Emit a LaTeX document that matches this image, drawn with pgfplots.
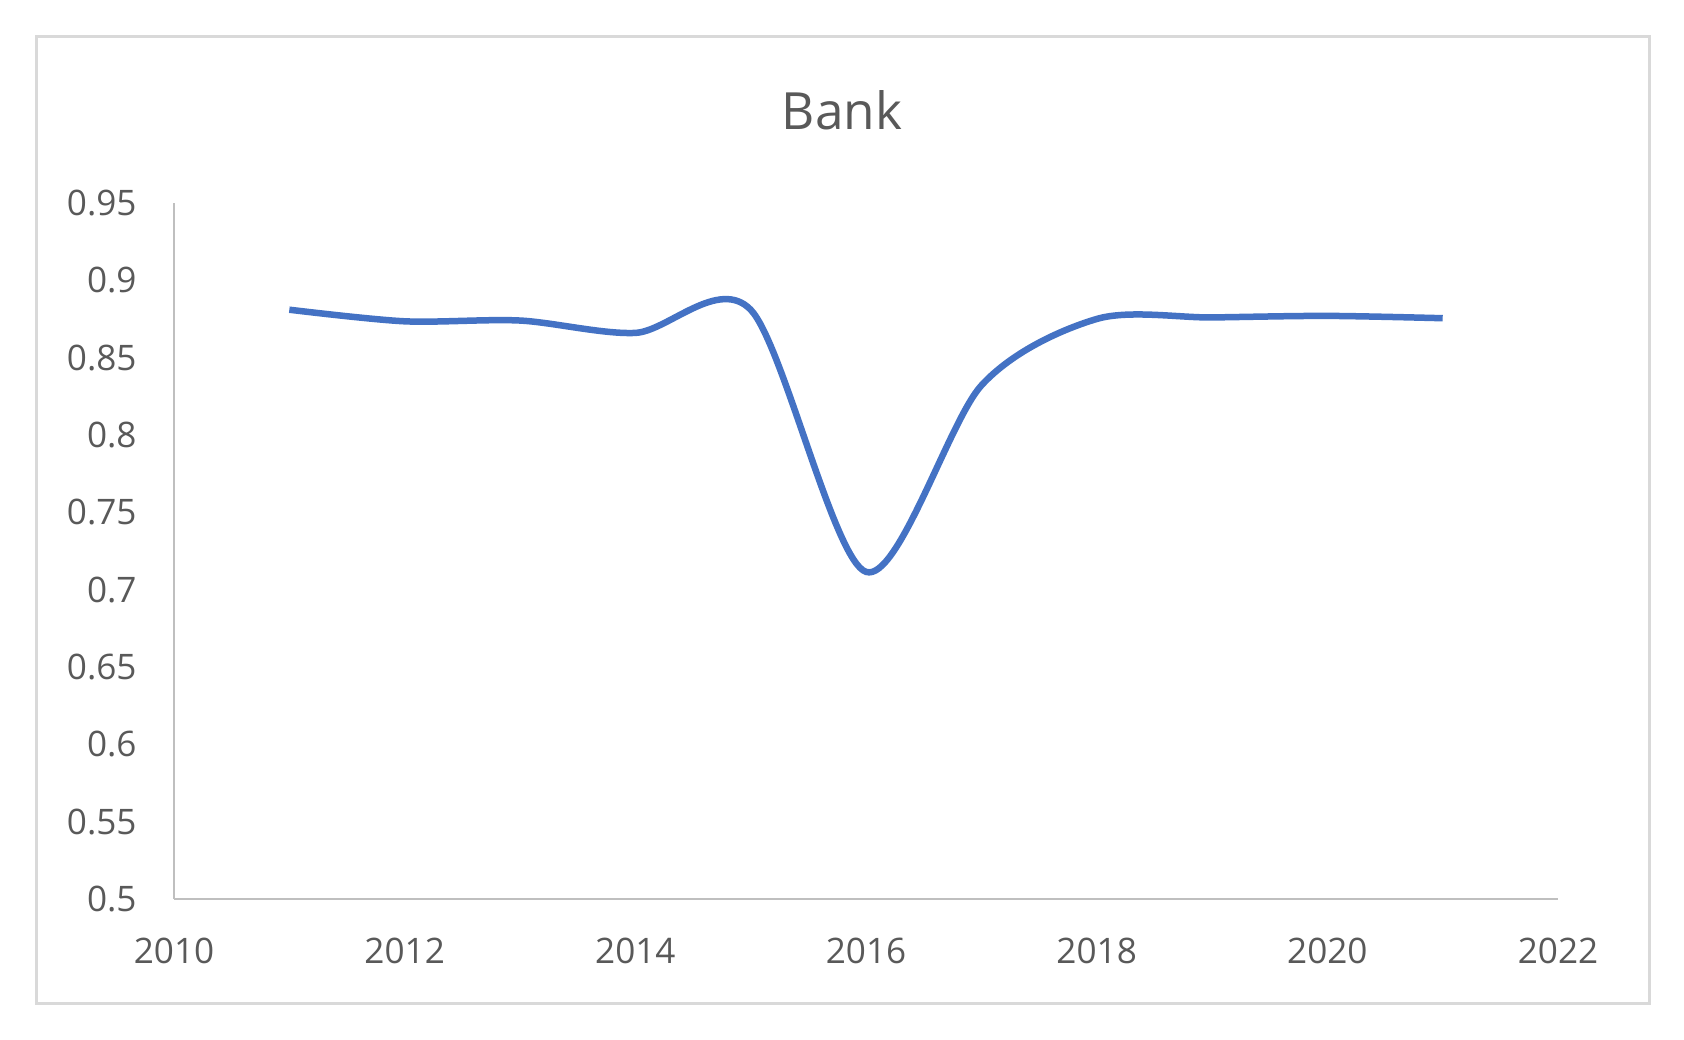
\documentclass[border=0pt]{standalone}
\usepackage{fontspec}
\setmainfont{Open Sans}
\usepackage{pgfplots}
\pgfplotsset{compat=1.18}
\definecolor{txt}{HTML}{595959}
\definecolor{axgray}{HTML}{BFBFBF}
\definecolor{framegray}{HTML}{D9D9D9}
\definecolor{bankblue}{HTML}{4472C4}

\begin{document}
\begin{tikzpicture}[x=1mm,y=1mm]
% chart area and its border
\fill[white] (0,0) rectangle (168.4,104);
\draw[framegray, line width=0.3mm] (3.6,3.6) rectangle (164.9,100.3);
\node[txt, font=\fontsize{14.6}{17}\selectfont] at (84.2,93) {Bank};
\begin{axis}[
  at={(17.4mm,14.1mm)}, anchor=south west,
  scale only axis, width=138.4mm, height=69.6mm,
  xmin=2010, xmax=2022, ymin=0.5, ymax=0.95,
  axis x line*=bottom, axis y line*=left,
  axis line style={axgray, line width=0.25mm},
  major tick length=0, tick style={draw=none},
  xtick={2010,2012,...,2022},
  xticklabels={2010,2012,2014,2016,2018,2020,2022},
  ytick={0.5,0.55,0.6,0.65,0.7,0.75,0.8,0.85,0.9,0.95},
  yticklabels={0.5,0.55,0.6,0.65,0.7,0.75,0.8,0.85,0.9,0.95},
  tick label style={txt, font=\fontsize{10}{12}\selectfont},
  xticklabel style={anchor=north, yshift=-2.7mm},
  yticklabel style={anchor=east, xshift=-2.5mm},
  clip=false
]
\addplot[bankblue, line width=0.65mm, smooth, tension=0.5] coordinates {
  (2011,0.881) (2012,0.8735) (2013,0.874) (2014,0.866) (2015,0.881)
  (2016,0.7115) (2017,0.832) (2018,0.875) (2019,0.876) (2020,0.877) (2021,0.8755)
};
\end{axis}
\end{tikzpicture}
\end{document}
